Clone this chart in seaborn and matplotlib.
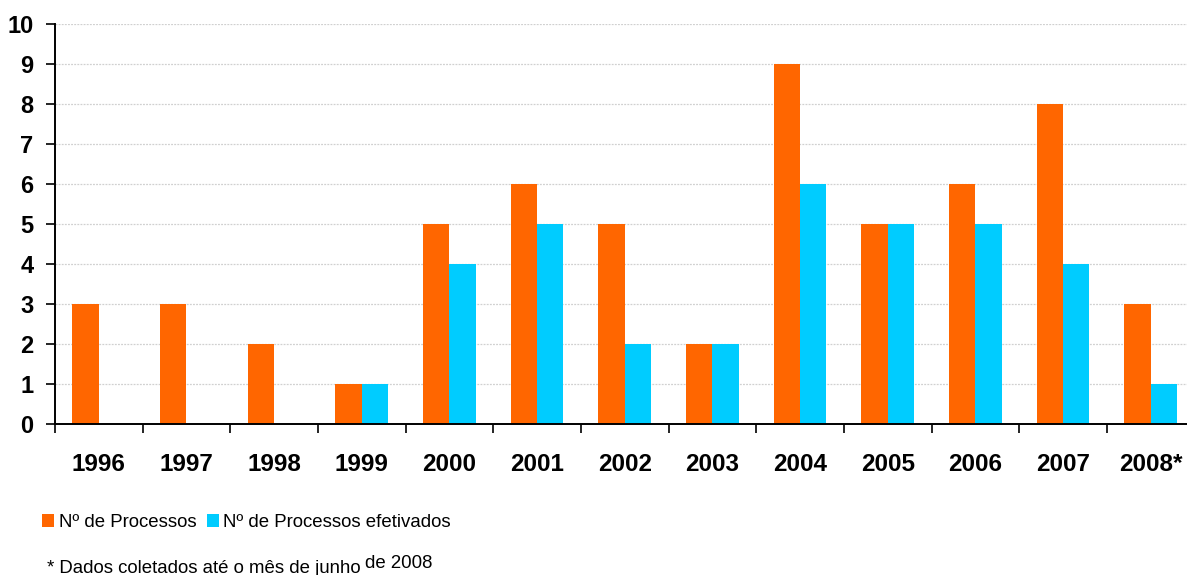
import numpy as np
import pandas as pd
import matplotlib.pyplot as plt
import seaborn as sns
from matplotlib.patches import Patch
from matplotlib.ticker import FixedLocator

anos = ["1996", "1997", "1998", "1999", "2000", "2001", "2002",
        "2003", "2004", "2005", "2006", "2007", "2008*"]
processos = [3, 3, 2, 1, 5, 6, 5, 2, 9, 5, 6, 8, 3]
efetivados = [0, 0, 0, 1, 4, 5, 2, 2, 6, 5, 5, 4, 1]
series = ["Nº de Processos", "Nº de Processos efetivados"]
cores = ["#FF6600", "#00CCFF"]

df = pd.DataFrame({"ano": anos * 2,
                   "valor": processos + efetivados,
                   "serie": [series[0]] * len(anos) + [series[1]] * len(anos)})

sns.set_style("white")
plt.rcParams["font.family"] = ["Liberation Sans", "DejaVu Sans"]
plt.rcParams["text.color"] = "black"

fig = plt.figure(figsize=(11.87, 5.75), dpi=100)
ax = fig.add_axes([0.0463, 0.2626, 0.960, 0.6951])

sns.barplot(data=df, x="ano", y="valor", hue="serie", palette=cores,
            width=0.6, gap=0, saturation=1, legend=False, linewidth=0,
            edgecolor="none", ax=ax)

ax.set_ylim(0, 10)
ax.set_xlim(-0.5, len(anos) - 0.5)
ax.set_yticks(range(0, 11))
ax.yaxis.grid(True, color="#d0d0d0", linestyle=(0, (1.5, 1)), linewidth=0.9)
ax.set_axisbelow(True)
ax.set_xlabel("")
ax.set_ylabel("")

for s in ["top", "right"]:
    ax.spines[s].set_visible(False)
for s in ["left", "bottom"]:
    ax.spines[s].set_color("black")
    ax.spines[s].set_linewidth(1.4)

ax.tick_params(axis="y", left=True, direction="out", length=6.5, width=1.2,
               color="black", labelcolor="black", pad=9, labelsize=17)
for lab in ax.get_yticklabels():
    lab.set_fontweight("bold")

ax.xaxis.set_minor_locator(FixedLocator(np.arange(-0.5, len(anos), 1.0)))
ax.tick_params(axis="x", which="minor", bottom=True, direction="out",
               length=6.5, width=1.2, color="black")
ax.tick_params(axis="x", which="major", bottom=True, length=0, pad=21,
               labelsize=17.5, labelcolor="black")
for lab in ax.get_xticklabels():
    lab.set_fontweight("bold")

handles = [Patch(facecolor=c, edgecolor="none") for c in cores]
fig.legend(handles, series, loc="center left", bbox_to_anchor=(0.0355, 0.092),
           ncol=2, frameon=False, fontsize=13.4, handlelength=0.65,
           handleheight=0.7, handletextpad=0.25, columnspacing=0.55,
           borderaxespad=0, borderpad=0)

fig.text(0.0396, 0.003, "* Dados coletados até o mês de junho", fontsize=13.4,
         ha="left", va="baseline")
fig.text(0.3075, 0.013, "de 2008", fontsize=13.4, ha="left", va="baseline")

fig.savefig("out.png", dpi=100)
